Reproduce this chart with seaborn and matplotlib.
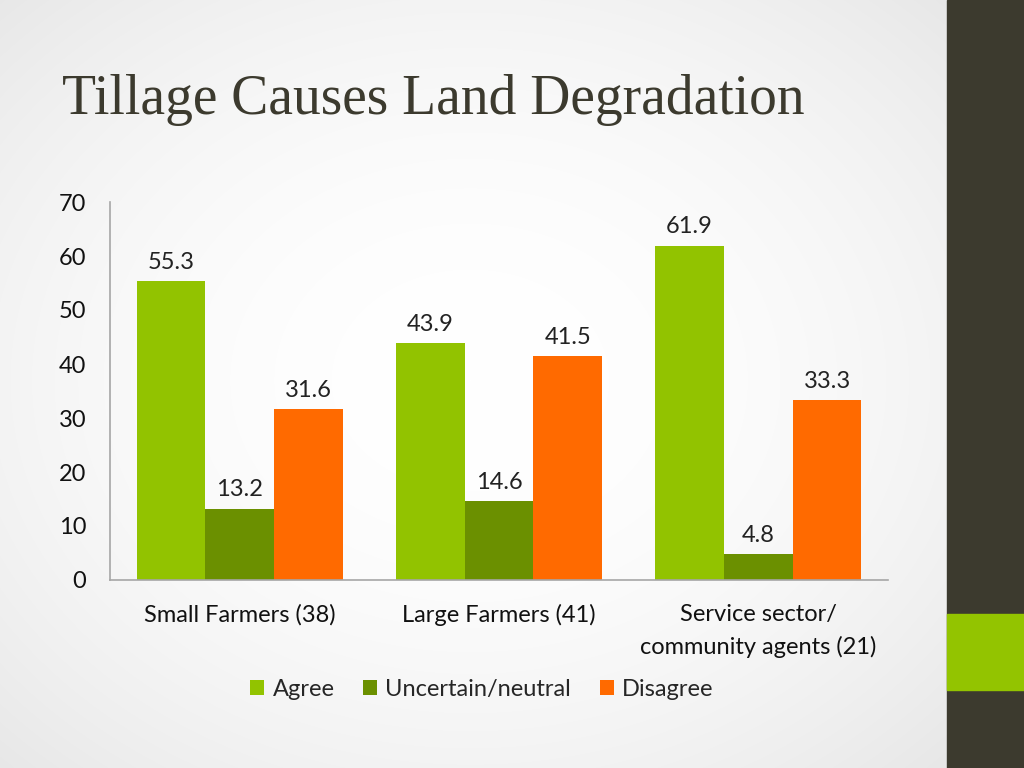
import numpy as np
import pandas as pd
import matplotlib.pyplot as plt
import seaborn as sns
from matplotlib.patches import Rectangle

# Data
groups = ['Small Farmers (38)', 'Large Farmers (41)', 'Service sector/\ncommunity agents (21)']
responses = ['Agree', 'Uncertain/neutral', 'Disagree']
agree = [55.3, 43.9, 61.9]
uncertain = [13.2, 14.6, 4.8]
disagree = [31.6, 41.5, 33.3]
colors = ['#92c300', '#6b9000', '#ff6a00']

df = pd.DataFrame({
    'group': groups * 3,
    'response': [r for r in responses for _ in groups],
    'value': agree + uncertain + disagree,
})

sns.set_style('white')
plt.rcParams['font.family'] = ['Lato', 'DejaVu Sans']

fig = plt.figure(figsize=(10.24, 7.68), dpi=100)

# slide background: soft radial gradient
bg = fig.add_axes([0, 0, 1, 1], zorder=-10)
yy, xx = np.mgrid[0:768, 0:1024]
r = np.sqrt(((xx - 470) / 700) ** 2 + ((yy - 380) / 560) ** 2)
shade = 1 - 0.10 * np.clip(r, 0, 1.2) ** 2
bg.imshow(np.dstack([shade] * 3), aspect='auto', extent=[0, 1, 0, 1])
bg.add_patch(Rectangle((947 / 1024, 0), 77 / 1024, 1, color='#3c3a2e', transform=bg.transAxes))
bg.add_patch(Rectangle((947 / 1024, 1 - 690 / 768), 77 / 1024, 76 / 768, color='#93c400', transform=bg.transAxes))
bg.set_xlim(0, 1)
bg.set_ylim(0, 1)
bg.axis('off')

fig.text(62 / 1024, 1 - 100 / 768, 'Tillage Causes Land Degradation', fontsize=40,
         family=['Liberation Serif', 'DejaVu Serif'],
         color='#3c3a2e', va='center', ha='left')

ax = fig.add_axes([110 / 1024, 1 - 580 / 768, 778 / 1024, 378 / 768])
ax.patch.set_alpha(0)
sns.barplot(data=df, x='group', y='value', hue='response', palette=colors,
            width=0.795, saturation=1, linewidth=0, ax=ax, legend=True)

for cont in ax.containers:
    ax.bar_label(cont, fmt='%.1f', padding=6, fontsize=17, color='#222222')

ax.set_ylim(0, 70)
ax.set_yticks(range(0, 71, 10))
ax.set_xlim(-0.5, 2.5)
ax.set_xlabel('')
ax.set_ylabel('')
ax.tick_params(axis='y', labelsize=17, pad=17, length=0, colors='#111111')
ax.tick_params(axis='x', labelsize=17, pad=17, length=0, colors='#111111')
for lbl in ax.get_xticklabels():
    lbl.set_linespacing(1.65)
for s in ['top', 'right']:
    ax.spines[s].set_visible(False)
for s in ['left', 'bottom']:
    ax.spines[s].set_color('#a6a6a6')
    ax.spines[s].set_linewidth(1.2)

ax.legend(loc='center', bbox_to_anchor=(0.478, -0.29), ncol=3, frameon=False,
          fontsize=17, handlelength=0.6, handleheight=0.6, handletextpad=0.35,
          columnspacing=1.2)

fig.savefig('out.png', dpi=100)
